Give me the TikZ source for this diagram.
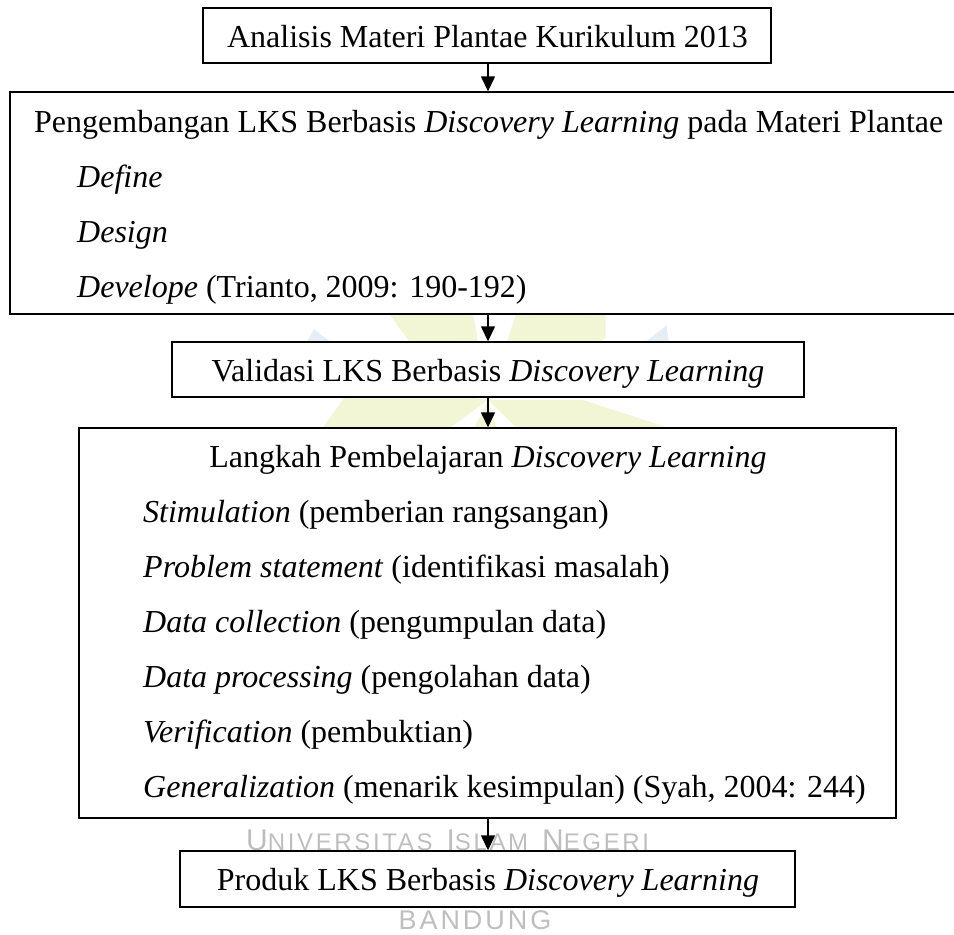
\documentclass[tikz,border=0pt]{standalone}
\usepackage{fontspec}
\setmainfont{Liberation Serif}
\newfontfamily\wmfont[LetterSpace=11]{Liberation Sans}
\usetikzlibrary{arrows.meta}
\definecolor{wmgray}{RGB}{190,190,190}
\definecolor{wmyellow}{RGB}{243,246,212}
\definecolor{wmblue}{RGB}{230,238,245}
\tikzset{
  box/.style={draw=black, line width=1.4pt, fill=white, inner sep=0pt},
  txt/.style={anchor=base west, inner sep=0pt, font=\fontsize{32}{38}\selectfont},
  ctxt/.style={anchor=base, inner sep=0pt, font=\fontsize{32}{38}\selectfont},
  flow/.style={line width=1.4pt, -{Triangle[length=15pt,width=14pt]}},
  wm/.style={inner sep=0pt, text=wmgray, font=\wmfont},
}
\newcommand{\bigc}[1]{{\fontsize{30}{30}\selectfont #1}}
\newcommand{\smallc}[1]{{\fontsize{24}{24}\selectfont #1}}
\begin{document}
\begin{tikzpicture}[x=1pt,y=-1pt]
\useasboundingbox (0,0) rectangle (954,935);
% faint watermark logo
\coordinate (lc) at (488,400);
\foreach \a in {90,162,234,306,18}{
  \fill[wmyellow] (lc) -- ++(\a-18:95) -- ++(\a:150) -- ++(\a+180-36:150) -- cycle;
}
\foreach \a in {126,198,270,342,54}{
  \fill[wmblue] (lc) ++(\a:150) -- ++(\a+20:40) -- ++(\a-80:30) -- cycle;
}
% watermark text
\node[wm, anchor=base west] (wm1) at (246,850) {\bigc{U}\smallc{NIVERSITAS}\hspace{14pt}\bigc{I}\smallc{SLAM}\hspace{14pt}\bigc{N}\smallc{EGERI}};
\node[wm, anchor=base] (wm2) at (475,929) {\fontsize{27}{27}\selectfont BANDUNG};
% boxes
\node[box, minimum width=568pt, minimum height=55pt] (b1) at (487,35.5) {};
\node[box, minimum width=952pt, minimum height=222pt] (b2) at (486,203) {};
\node[box, minimum width=632pt, minimum height=55pt] (b3) at (488,369.5) {};
\node[box, minimum width=817pt, minimum height=390pt] (b4) at (487.5,623) {};
\node[box, minimum width=615pt, minimum height=56pt] (b5) at (487.5,879) {};
% texts
\node[ctxt] (t1) at (487.5,47) {Analisis Materi Plantae Kurikulum 2013};
\node[txt] (t2a) at (34,132) {Pengembangan LKS Berbasis \textit{Discovery Learning} pada Materi Plantae};
\node[txt] (t2b) at (77,187) {\textit{Define}};
\node[txt] (t2c) at (77,242) {\textit{Design}};
\node[txt] (t2d) at (77,297) {\textit{Develope} (Trianto, 2009: 190-192)};
\node[ctxt] (t3) at (488,381) {Validasi LKS Berbasis \textit{Discovery Learning}};
\node[ctxt] (t4) at (488,467) {Langkah Pembelajaran \textit{Discovery Learning}};
\node[txt] (t4a) at (143,522) {\textit{Stimulation} (pemberian rangsangan)};
\node[txt] (t4b) at (143,577) {\textit{Problem statement} (identifikasi masalah)};
\node[txt] (t4c) at (143,632) {\textit{Data collection} (pengumpulan data)};
\node[txt] (t4d) at (143,687) {\textit{Data processing} (pengolahan data)};
\node[txt] (t4e) at (143,742) {\textit{Verification} (pembuktian)};
\node[txt] (t4f) at (143,797) {\textit{Generalization} (menarik kesimpulan) (Syah, 2004: 244)};
\node[ctxt] (t5) at (488,890) {Produk LKS Berbasis \textit{Discovery Learning}};
% connectors
\coordinate (ax) at (488,0);
\draw[flow] (ax |- b1.south) -- (ax |- b2.north);
\draw[flow] (ax |- b2.south) -- (ax |- b3.north);
\draw[flow] (ax |- b3.south) -- (ax |- b4.north);
\draw[flow] (ax |- b4.south) -- (ax |- b5.north);
\end{tikzpicture}
\end{document}
